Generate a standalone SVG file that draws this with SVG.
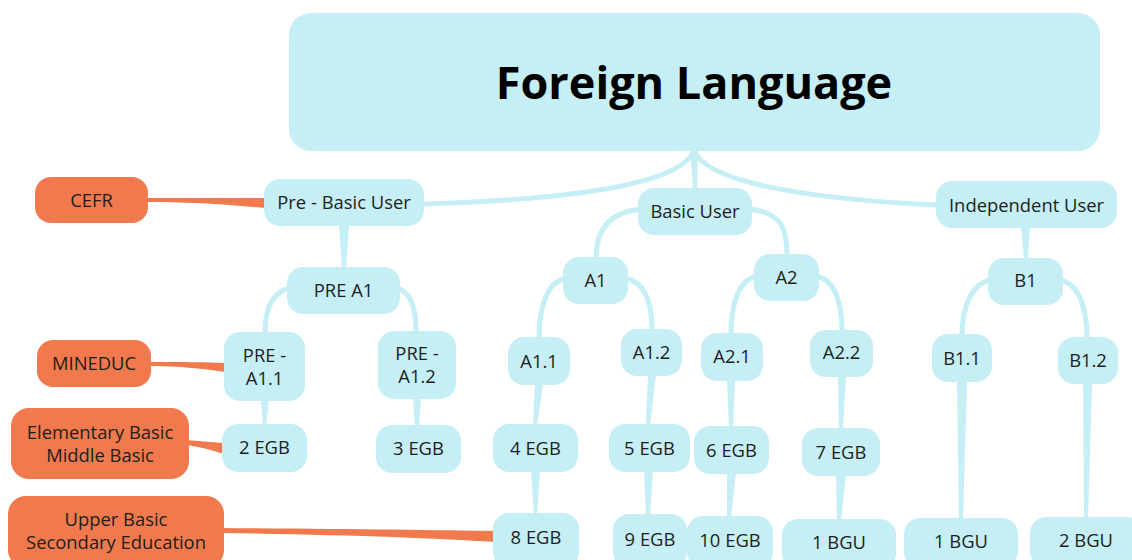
<svg xmlns="http://www.w3.org/2000/svg" width="1132" height="560" viewBox="0 0 1132 560">
<style>
.n{fill:#c5eef5}
.o{fill:#f07a4d}
.t{font-family:"Open Sans","Noto Sans","DejaVu Sans",sans-serif;font-size:18.4px;fill:#1e1e1e;text-anchor:middle}
.title{font-family:"Open Sans","Noto Sans","DejaVu Sans",sans-serif;font-size:45px;font-weight:bold;fill:#000;text-anchor:middle}
.c{fill:none;stroke:#c5eef5;stroke-width:5;stroke-linecap:round}
.cf{fill:#c5eef5}
.of{fill:#f07a4d}
</style>
<rect width="1132" height="560" fill="#fff"/>
<g id="connectors">
<path class="c" d="M694,150 C682,186 560,200 424,204"/>
<path class="c" d="M694,150 C706,186 830,200 936,205"/>
<path class="cf" d="M690,148 L698,148 L697,189 L693,189 Z"/>
<path class="cf" d="M339,225 L349,225 L346,268 L342,268 Z"/>
<path class="cf" d="M1021,227 L1030,227 L1028,259 L1024,259 Z"/>
<path class="c" d="M642,209 C606,212 596,234 596,258"/>
<path class="c" d="M748,209 C784,212 787,232 787,255"/>
<path class="c" d="M290,288 C272,292 265,310 265,333"/>
<path class="c" d="M397,288 C412,292 416,310 416,332"/>
<path class="c" d="M566,278 C546,282 539,310 539,338"/>
<path class="c" d="M625,278 C646,282 652,305 652,330"/>
<path class="c" d="M757,276 C738,280 731,305 731,334"/>
<path class="c" d="M816,276 C836,280 842,305 842,331"/>
<path class="c" d="M991,280 C970,284 962,310 962,335"/>
<path class="c" d="M1060,280 C1080,284 1087,310 1087,338"/>
<path class="cf" d="M261,399 L269,399 L266,426 L263,426 Z"/>
<path class="cf" d="M413,398 L421,398 L419,426 L415,426 Z"/>
<path class="cf" d="M535,384 L543,384 L537,426 L533,426 Z"/>
<path class="cf" d="M531,471 L540,471 L537,514 L534,514 Z"/>
<path class="cf" d="M648,375 L656,375 L650,425 L646,425 Z"/>
<path class="cf" d="M644,471 L653,471 L650,515 L646,515 Z"/>
<path class="cf" d="M727,380 L735,380 L733,427 L729,427 Z"/>
<path class="cf" d="M727,473 L736,473 L731,517 L727,517 Z"/>
<path class="cf" d="M838,376 L846,376 L843,429 L839,429 Z"/>
<path class="cf" d="M836,475 L846,475 L841,520 L837,520 Z"/>
<path class="cf" d="M957,381 L967,381 L963,519 L959,519 Z"/>
<path class="cf" d="M1083,383 L1092,383 L1088,518 L1084,518 Z"/>
<path class="of" d="M146,198 C200,198 230,198 266,198 L266,208 C230,205 200,202 146,202 Z"/>
<path class="of" d="M149,362 C180,362 205,362 226,363 L226,372 C205,369 180,366 149,366 Z"/>
<path class="of" d="M187,440 C200,441 210,442 224,443 L224,454 C212,450 200,447 187,445 Z"/>
<path class="of" d="M222,528 C350,529 430,530 496,531 L496,542 C430,538 350,535 222,533 Z"/>
</g>
<g id="root"><rect class="n" x="289" y="13" width="811" height="138" rx="22"/><text class="title" x="694" y="99">Foreign Language</text></g>
<g id="cefr"><rect class="o" x="35" y="177" width="113" height="46" rx="16"/><text class="t" x="91.5" y="207">CEFR</text></g>
<g id="pre-basic-user"><rect class="n" x="264" y="179" width="160" height="47" rx="16"/><text class="t" x="344" y="209">Pre - Basic User</text></g>
<g id="basic-user"><rect class="n" x="638" y="188" width="114" height="47" rx="16"/><text class="t" x="695" y="218">Basic User</text></g>
<g id="independent-user"><rect class="n" x="936" y="181" width="181" height="47" rx="16"/><text class="t" x="1026.5" y="212">Independent User</text></g>
<g id="pre-a1"><rect class="n" x="287" y="267" width="113" height="47" rx="16"/><text class="t" x="343.5" y="297">PRE A1</text></g>
<g id="a1"><rect class="n" x="563" y="257" width="65" height="47" rx="16"/><text class="t" x="595.5" y="287">A1</text></g>
<g id="a2"><rect class="n" x="754" y="254" width="65" height="47" rx="16"/><text class="t" x="786.5" y="284">A2</text></g>
<g id="b1"><rect class="n" x="988" y="258" width="75" height="47" rx="16"/><text class="t" x="1025.5" y="287">B1</text></g>
<g id="mineduc"><rect class="o" x="37" y="340" width="114" height="47" rx="16"/><text class="t" x="94" y="370">MINEDUC</text></g>
<g id="pre-a1-1"><rect class="n" x="224" y="332" width="81" height="69" rx="16"/><text class="t" x="264.5" y="362">PRE -</text><text class="t" x="264.5" y="385">A1.1</text></g>
<g id="pre-a1-2"><rect class="n" x="378" y="331" width="78" height="68" rx="16"/><text class="t" x="417" y="360">PRE -</text><text class="t" x="417" y="383">A1.2</text></g>
<g id="a1-1"><rect class="n" x="508" y="337" width="62" height="48" rx="16"/><text class="t" x="539" y="368">A1.1</text></g>
<g id="a1-2"><rect class="n" x="621" y="329" width="61" height="47" rx="16"/><text class="t" x="651.5" y="359">A1.2</text></g>
<g id="a2-1"><rect class="n" x="701" y="333" width="62" height="48" rx="16"/><text class="t" x="732" y="363">A2.1</text></g>
<g id="a2-2"><rect class="n" x="810" y="330" width="63" height="47" rx="16"/><text class="t" x="841.5" y="359">A2.2</text></g>
<g id="b1-1"><rect class="n" x="932" y="334" width="60" height="48" rx="16"/><text class="t" x="962" y="365">B1.1</text></g>
<g id="b1-2"><rect class="n" x="1058" y="337" width="60" height="47" rx="16"/><text class="t" x="1088" y="367">B1.2</text></g>
<g id="elementary"><rect class="o" x="11" y="408" width="178" height="71" rx="18"/><text class="t" x="100" y="439">Elementary Basic</text><text class="t" x="100" y="462">Middle Basic</text></g>
<g id="egb2"><rect class="n" x="222" y="424" width="85" height="48" rx="16"/><text class="t" x="264.5" y="454">2 EGB</text></g>
<g id="egb3"><rect class="n" x="376" y="425" width="85" height="48" rx="16"/><text class="t" x="418.5" y="455">3 EGB</text></g>
<g id="egb4"><rect class="n" x="493" y="424" width="85" height="48" rx="16"/><text class="t" x="535.5" y="455">4 EGB</text></g>
<g id="egb5"><rect class="n" x="609" y="424" width="81" height="48" rx="16"/><text class="t" x="649.5" y="455">5 EGB</text></g>
<g id="egb6"><rect class="n" x="694" y="426" width="75" height="48" rx="16"/><text class="t" x="731.5" y="457">6 EGB</text></g>
<g id="egb7"><rect class="n" x="802" y="428" width="78" height="48" rx="16"/><text class="t" x="841" y="459">7 EGB</text></g>
<g id="upper"><rect class="o" x="8" y="496" width="216" height="72" rx="18"/><text class="t" x="116" y="526">Upper Basic</text><text class="t" x="116" y="549">Secondary Education</text></g>
<g id="egb8"><rect class="n" x="493" y="513" width="86" height="55" rx="16"/><text class="t" x="536" y="544">8 EGB</text></g>
<g id="egb9"><rect class="n" x="613" y="514" width="74" height="54" rx="16"/><text class="t" x="650" y="546">9 EGB</text></g>
<g id="egb10"><rect class="n" x="687" y="516" width="86" height="52" rx="16"/><text class="t" x="730" y="547">10 EGB</text></g>
<g id="bgu1a"><rect class="n" x="782" y="519" width="114" height="50" rx="16"/><text class="t" x="839" y="549">1 BGU</text></g>
<g id="bgu1b"><rect class="n" x="904" y="518" width="114" height="50" rx="16"/><text class="t" x="961" y="548">1 BGU</text></g>
<g id="bgu2"><rect class="n" x="1030" y="517" width="113" height="51" rx="16"/><text class="t" x="1086" y="547">2 BGU</text></g>
</svg>
